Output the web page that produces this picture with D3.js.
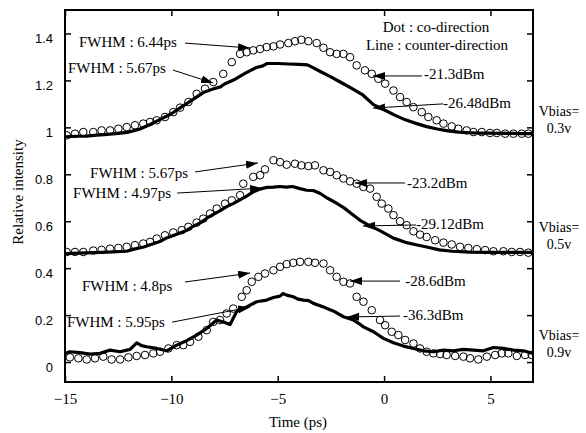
<!DOCTYPE html>
<html>
<head>
<meta charset="utf-8">
<script src="https://cdn.jsdelivr.net/npm/d3@7"></script>
<style>
  body { margin: 0; background: #fff; }
  svg { display: block; }
</style>
</head>
<body>
<div id="chart"></div>
<script>
'use strict';

// ---- data: [time (ps), relative intensity] ----
const dotsTop = [[-14.92,0.966],[-14.53,0.973],[-14.14,0.980],[-13.67,0.980],[-13.28,0.987],[-12.88,0.987],[-12.49,0.994],[-12.10,1.001],[-11.71,1.009],[-11.32,1.016],[-11.00,1.023],[-10.69,1.030],[-10.30,1.044],[-9.91,1.065],[-9.59,1.084],[-9.20,1.108],[-8.81,1.143],[-8.42,1.165],[-8.03,1.193],[-7.56,1.228],[-7.16,1.278],[-6.77,1.313],[-6.46,1.320],[-6.15,1.328],[-5.83,1.334],[-5.52,1.342],[-5.20,1.345],[-4.89,1.353],[-4.50,1.359],[-4.19,1.367],[-3.89,1.373],[-3.56,1.367],[-3.17,1.359],[-2.85,1.339],[-2.54,1.320],[-2.23,1.313],[-1.91,1.313],[-1.60,1.299],[-1.29,1.264],[-0.90,1.243],[-0.58,1.228],[-0.27,1.207],[0.05,1.186],[0.44,1.157],[0.75,1.129],[1.06,1.108],[1.38,1.086],[1.77,1.065],[2.08,1.044],[2.47,1.030],[2.79,1.016],[3.18,1.004],[3.49,0.994],[3.88,0.987],[4.20,0.980],[4.59,0.980],[4.98,0.976],[5.30,0.976],[5.69,0.973],[6.08,0.973],[6.47,0.973],[6.78,0.973]];

const lineTop = [[-15,0.960],[-14.5,0.962],[-14,0.963],[-13.5,0.967],[-13,0.970],[-12.5,0.974],[-12,0.980],[-11.5,0.992],[-11,1.012],[-10.5,1.035],[-10,1.058],[-9.5,1.088],[-9,1.118],[-8.5,1.148],[-8,1.165],[-7.7,1.172],[-7.5,1.185],[-7,1.205],[-6.5,1.232],[-6,1.255],[-5.7,1.262],[-5.5,1.272],[-5,1.272],[-4.5,1.270],[-4,1.268],[-3.6,1.266],[-3.5,1.262],[-3,1.238],[-2.5,1.215],[-2,1.190],[-1.5,1.165],[-1,1.138],[-0.5,1.097],[0,1.075],[0.5,1.052],[1,1.032],[1.5,1.017],[2,1.003],[2.5,0.993],[3,0.985],[3.5,0.980],[4,0.977],[4.5,0.975],[5,0.975],[5.5,0.974],[6,0.974],[6.5,0.973],[7,0.973]];

const dotsMid = [[-14.92,0.469],[-14.53,0.469],[-14.14,0.469],[-13.67,0.475],[-13.28,0.478],[-12.88,0.483],[-12.49,0.486],[-12.10,0.491],[-11.71,0.498],[-11.32,0.505],[-11.00,0.512],[-10.69,0.526],[-10.30,0.540],[-9.91,0.552],[-9.51,0.562],[-9.20,0.576],[-8.81,0.594],[-8.50,0.611],[-8.18,0.633],[-7.87,0.654],[-7.48,0.675],[-7.16,0.689],[-6.77,0.711],[-6.62,0.760],[-6.15,0.789],[-5.83,0.796],[-5.60,0.821],[-5.20,0.860],[-4.89,0.852],[-4.58,0.841],[-4.19,0.845],[-3.89,0.838],[-3.56,0.835],[-3.25,0.838],[-2.85,0.817],[-2.54,0.810],[-2.23,0.796],[-1.91,0.782],[-1.60,0.770],[-1.29,0.760],[-0.97,0.746],[-0.66,0.739],[-0.35,0.704],[-0.11,0.675],[0.20,0.654],[0.44,0.626],[0.75,0.600],[1.06,0.583],[1.38,0.557],[1.69,0.543],[2.00,0.533],[2.40,0.519],[2.79,0.509],[3.18,0.501],[3.57,0.491],[3.96,0.486],[4.36,0.481],[4.75,0.477],[5.14,0.472],[5.61,0.472],[6.00,0.469],[6.39,0.469],[6.78,0.466]];

const lineMid = [[-15,0.462],[-14,0.465],[-13,0.468],[-12.1,0.472],[-11.8,0.480],[-11.3,0.490],[-11,0.500],[-10.5,0.515],[-10.2,0.530],[-9.75,0.545],[-9.3,0.560],[-9,0.577],[-8.6,0.595],[-8.3,0.615],[-8,0.630],[-7.7,0.645],[-7.4,0.662],[-7.1,0.675],[-6.8,0.690],[-6.5,0.705],[-6.15,0.725],[-5.8,0.738],[-5.5,0.744],[-5.2,0.745],[-4.9,0.748],[-4.6,0.745],[-4.3,0.748],[-4.0,0.740],[-3.64,0.732],[-3.3,0.730],[-3.0,0.718],[-2.7,0.700],[-2.3,0.680],[-1.9,0.658],[-1.5,0.630],[-1.13,0.604],[-0.66,0.580],[-0.2,0.560],[0.44,0.528],[1.0,0.510],[1.5,0.500],[2.0,0.490],[2.6,0.478],[3.2,0.472],[4,0.468],[5,0.467],[6,0.467],[7,0.467]];

const dotsLow = [[-14.77,0.020],[-14.37,0.016],[-13.98,0.011],[-13.59,0.016],[-13.20,0.023],[-12.81,0.011],[-12.41,0.011],[-12.02,0.020],[-11.63,0.026],[-11.24,0.030],[-10.85,0.037],[-10.53,0.044],[-10.14,0.058],[-9.75,0.072],[-9.44,0.072],[-9.12,0.086],[-8.73,0.108],[-8.34,0.136],[-8.03,0.171],[-7.71,0.179],[-7.40,0.207],[-7.09,0.228],[-6.69,0.278],[-6.46,0.306],[-6.22,0.342],[-5.91,0.363],[-5.60,0.377],[-5.20,0.391],[-4.89,0.406],[-4.58,0.417],[-4.27,0.423],[-3.95,0.427],[-3.56,0.427],[-3.25,0.423],[-2.85,0.420],[-2.54,0.391],[-2.23,0.363],[-1.91,0.342],[-1.60,0.335],[-1.29,0.278],[-0.97,0.257],[-0.58,0.221],[-0.19,0.179],[0.05,0.157],[0.36,0.129],[0.67,0.115],[0.99,0.094],[1.38,0.079],[1.69,0.058],[2.00,0.044],[2.32,0.037],[2.63,0.034],[2.94,0.030],[3.34,0.026],[3.73,0.023],[4.04,0.016],[4.43,0.011],[4.83,0.023],[5.22,0.030],[5.53,0.037],[5.84,0.037],[6.24,0.026],[6.63,0.030],[6.94,0.030]];

const lineLow = [[-15,0.037],[-14.77,0.044],[-14.3,0.040],[-13.82,0.034],[-13.35,0.037],[-12.88,0.051],[-12.41,0.044],[-11.94,0.054],[-11.63,0.082],[-11.4,0.070],[-11.16,0.065],[-10.69,0.058],[-10.22,0.048],[-9.75,0.072],[-9.28,0.091],[-8.81,0.115],[-8.34,0.143],[-7.87,0.179],[-7.56,0.171],[-7.24,0.160],[-6.93,0.215],[-6.46,0.235],[-5.99,0.257],[-5.52,0.264],[-5.2,0.275],[-4.89,0.281],[-4.75,0.292],[-4.58,0.285],[-4.27,0.278],[-4.05,0.268],[-3.79,0.264],[-3.55,0.262],[-3.32,0.250],[-2.85,0.235],[-2.6,0.225],[-2.39,0.218],[-1.91,0.193],[-1.44,0.179],[-1.2,0.165],[-0.97,0.150],[-0.5,0.129],[-0.03,0.101],[0.44,0.082],[0.91,0.068],[1.38,0.058],[1.85,0.048],[2.32,0.044],[2.79,0.051],[3.26,0.048],[3.73,0.054],[4.2,0.051],[4.67,0.048],[5.14,0.062],[5.61,0.058],[6.08,0.051],[6.55,0.048],[7,0.037]];

const xTicks = [-15, -10, -5, 0, 5];
const yTicks = [0, 0.2, 0.4, 0.6, 0.8, 1, 1.2, 1.4];
const fwhmText = ['FWHM : 6.44ps', 'FWHM : 5.67ps', 'FWHM : 5.67ps', 'FWHM : 4.97ps', 'FWHM : 4.8ps', 'FWHM : 5.95ps'];
const powerText = ['-21.3dBm', '-26.48dBm', '-23.2dBm', '-29.12dBm', '-28.6dBm', '-36.3dBm'];
const biasText = ['0.3v', '0.5v', '0.9v'];

// ---- layout ----
const W = 586, H = 433;
const SERIF = '"Liberation Serif", "Times New Roman", "DejaVu Serif", serif';
const SANS = '"Liberation Sans", Arial, sans-serif';
const x = d3.scaleLinear().domain([-15, 7]).range([65, 533]);
const y = d3.scaleLinear().domain([-0.085, 1.5]).range([382, 10]);

// label anchor, arrow start, arrow tip (data units)
const fwhmPos = [
  [[-14.34, 1.363], [-9.36, 1.359], [-6.30, 1.338]],
  [[-14.86, 1.253], [-9.92, 1.244], [-8.04, 1.189]],
  [[-13.82, 0.805], [-8.89, 0.810], [-5.93, 0.848]],
  [[-14.62, 0.720], [-9.73, 0.720], [-5.74, 0.741]],
  [[-14.20, 0.324], [-9.36, 0.341], [-6.30, 0.379]],
  [[-14.91, 0.170], [-9.97, 0.170], [-6.30, 0.234]]
];
const powerPos = [
  [[1.88, 1.227], [1.78, 1.219], [-0.52, 1.219]],
  [[2.77, 1.104], [2.77, 1.100], [-0.52, 1.082]],
  [[1.08, 0.763], [0.99, 0.763], [-1.37, 0.763]],
  [[1.50, 0.588], [1.50, 0.584], [-0.99, 0.580]],
  [[0.99, 0.345], [0.75, 0.345], [-1.60, 0.345]],
  [[0.89, 0.200], [0.75, 0.196], [-1.74, 0.192]]
];
const biasPos = [1.068, 0.574, 0.115];

const svg = d3.select('#chart').append('svg')
  .attr('width', W).attr('height', H);

svg.append('defs').append('marker')
  .attr('id', 'head')
  .attr('markerUnits', 'userSpaceOnUse')
  .attr('markerWidth', 13).attr('markerHeight', 9)
  .attr('refX', 12).attr('refY', 4)
  .attr('orient', 'auto')
  .append('path').attr('d', 'M0,0L12,4L0,8Z').attr('fill', '#000');

svg.select('defs').append('clipPath').attr('id', 'plot')
  .append('rect')
  .attr('x', x(-15)).attr('y', y(1.5))
  .attr('width', x(7) - x(-15)).attr('height', y(-0.085) - y(1.5));

// axes, all ticks pointing inward
const fmt = d => String(+d.toFixed(1));

svg.append('g')
  .attr('transform', `translate(${x(-15)},0)`)
  .call(d3.axisLeft(y).tickValues(yTicks).tickSize(-6).tickPadding(12).tickFormat(fmt))
  .attr('font-family', SANS).attr('font-size', 13)
  .call(g => g.selectAll('text').attr('dy', '0.7em'));

svg.append('g')
  .attr('transform', `translate(${x(7)},0)`)
  .call(d3.axisRight(y).tickValues(yTicks).tickSize(-6).tickFormat(''));

svg.append('g')
  .attr('transform', `translate(0,${y(-0.085)})`)
  .call(d3.axisBottom(x).tickValues(xTicks).tickSize(-6).tickPadding(11).tickFormat(d3.format('d')))
  .attr('font-family', SERIF).attr('font-size', 15);

svg.append('g')
  .attr('transform', `translate(0,${y(1.5)})`)
  .call(d3.axisTop(x).tickValues(xTicks).tickSize(-6).tickFormat(''));

svg.selectAll('.domain').remove();
svg.selectAll('.tick line').attr('stroke', '#000').attr('stroke-width', 1.5);
svg.selectAll('.tick text').attr('fill', '#000');

svg.append('rect')
  .attr('x', x(-15)).attr('y', y(1.5))
  .attr('width', x(7) - x(-15)).attr('height', y(-0.085) - y(1.5))
  .attr('fill', 'none').attr('stroke', '#000').attr('stroke-width', 2);

// curves
const plot = svg.append('g').attr('clip-path', 'url(#plot)');
const line = d3.line().x(d => x(d[0])).y(d => y(d[1]));

[lineTop, lineMid, lineLow].forEach(s => {
  plot.append('path').datum(s)
    .attr('d', line)
    .attr('fill', 'none').attr('stroke', '#000')
    .attr('stroke-width', 3.2).attr('stroke-linejoin', 'round');
});

[dotsTop, dotsMid, dotsLow].forEach(s => {
  plot.append('g').selectAll('circle').data(s).join('circle')
    .attr('cx', d => x(d[0])).attr('cy', d => y(d[1])).attr('r', 3.8)
    .attr('fill', 'none').attr('stroke', '#000').attr('stroke-width', 1);
});

// annotations
const notes = svg.append('g').attr('font-family', SERIF).attr('font-size', 15);
function annotate(texts, pos) {
  texts.forEach((t, i) => {
    const [at, from, to] = pos[i];
    notes.append('line')
      .attr('x1', x(from[0])).attr('y1', y(from[1]))
      .attr('x2', x(to[0])).attr('y2', y(to[1]))
      .attr('stroke', '#000').attr('stroke-width', 1)
      .attr('marker-end', 'url(#head)');
    notes.append('text')
      .attr('x', x(at[0])).attr('y', y(at[1])).attr('dy', '0.35em')
      .text(t);
  });
}
annotate(fwhmText, fwhmPos);
annotate(powerText, powerPos);

notes.append('text').attr('x', 436).attr('y', 27).attr('dy', '0.35em')
  .attr('text-anchor', 'middle').text('Dot : co-direction');
notes.append('text').attr('x', 437).attr('y', 45).attr('dy', '0.35em')
  .attr('text-anchor', 'middle').text('Line : counter-direction');

biasText.forEach((b, i) => {
  const g = svg.append('g').attr('font-family', SERIF).attr('font-size', 14)
    .attr('text-anchor', 'middle')
    .attr('transform', `translate(559,${y(biasPos[i])})`);
  g.append('text').attr('dy', '0.35em').text('Vbias=');
  g.append('text').attr('y', 17).attr('dy', '0.35em').text(b);
});

// axis titles
svg.append('text').attr('font-family', SERIF).attr('font-size', 15)
  .attr('x', 298).attr('y', 422).attr('dy', '0.35em')
  .attr('text-anchor', 'middle').text('Time (ps)');

svg.append('text').attr('font-family', SERIF).attr('font-size', 15)
  .attr('transform', 'translate(18,192) rotate(-90)')
  .attr('dy', '0.35em')
  .attr('text-anchor', 'middle').text('Relative intensity');
</script>
</body>
</html>
